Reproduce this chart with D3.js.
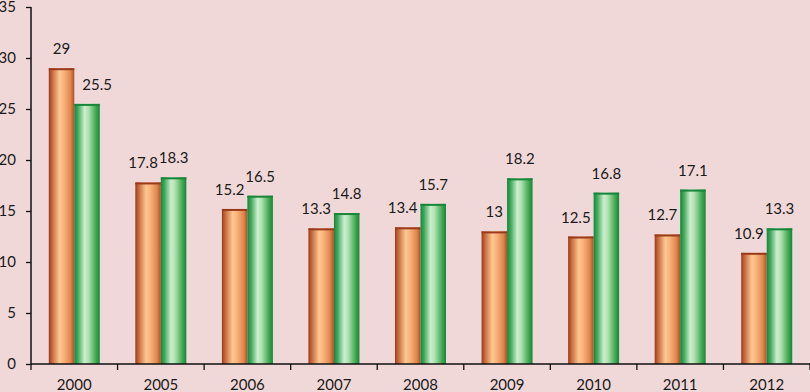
<!DOCTYPE html>
<html><head><meta charset="utf-8">
<script src="https://cdn.jsdelivr.net/npm/d3@7"></script>
<style>html,body{margin:0;padding:0;background:#f1d8d8;}svg{display:block;}</style>
</head><body><svg id="c" width="810" height="392"></svg>
<script>
const categories = ["2000","2005","2006","2007","2008","2009","2010","2011","2012"];
const seriesA = [29, 17.8, 15.2, 13.3, 13.4, 13, 12.5, 12.7, 10.9];
const seriesB = [25.5, 18.3, 16.5, 14.8, 15.7, 18.2, 16.8, 17.1, 13.3];
const yTicks = [0, 5, 10, 15, 20, 25, 30, 35];

const svg = d3.select("#c");
const W = 810, H = 392;
const m = {left: 31, right: 0, top: 7, bottom: 28};
const font = "Lato, 'Open Sans', sans-serif";
const fs = 15;

svg.append("rect").attr("width", W).attr("height", H).attr("fill", "#f1d8d8");

const defs = svg.append("defs");
function grad(id, stops) {
  const g = defs.append("linearGradient").attr("id", id).attr("x1", "0%").attr("x2", "100%").attr("y1", "0%").attr("y2", "0%");
  stops.forEach(s => g.append("stop").attr("offset", s[0]).attr("stop-color", s[1]));
}
grad("gA", [["0%","#9a3a1c"],["12%","#c4653a"],["42%","#fcc891"],["58%","#f9b47c"],["85%","#e0864e"],["100%","#b24f27"]]);
grad("gB", [["0%","#17863a"],["14%","#3da85a"],["40%","#cdeecd"],["55%","#b2e2b2"],["85%","#3fa850"],["100%","#17863a"]]);

const x = d3.scaleBand().domain(categories).range([m.left, W - m.right]).paddingInner(0).paddingOuter(0);
const y = d3.scaleLinear().domain([0, 35]).range([H - m.bottom, m.top]);
const sub = d3.scaleBand().domain(["A","B"]).range([0, 51]);
const bw = sub.bandwidth();

const g = svg.append("g");
categories.forEach((c, i) => {
  const x0 = x(c) + (x.bandwidth() - 51) / 2;
  const a = seriesA[i], b = seriesB[i];
  [["A", a, "url(#gA)", "#9a3a1c", b], ["B", b, "url(#gB)", "#17863a", a]].forEach(([k, v, f, s, other]) => {
    const bx = x0 + sub(k);
    g.append("rect").attr("x", bx).attr("y", y(v)).attr("width", bw).attr("height", y(0) - y(v))
      .attr("fill", f);
    g.append("line").attr("x1", bx).attr("x2", bx + bw).attr("y1", y(v) + 1).attr("y2", y(v) + 1)
      .attr("stroke", s).attr("stroke-width", 2);
    const t = g.append("text").attr("x", bx + bw / 2).attr("y", y(v) - 14)
      .attr("text-anchor", "middle").attr("font-family", font).attr("font-size", fs).attr("fill", "#1a1a1a")
      .text(String(v));
    // avoid overlapping the neighbouring, taller bar
    if (other > v) {
      const w = t.node().getComputedTextLength();
      if (k === "A") {
        const limit = bx + bw - 3;
        const right = bx + bw / 2 + w / 2;
        if (right > limit) t.attr("x", bx + bw / 2 - (right - limit));
      } else {
        const limit = bx + 8;
        const left = bx + bw / 2 - w / 2;
        if (left < limit) t.attr("x", bx + bw / 2 + (limit - left));
      }
    }
  });
});

// Y axis
const ya = svg.append("g").attr("transform", `translate(${m.left},0)`)
  .call(d3.axisLeft(y).tickValues(yTicks).tickSize(5).tickPadding(10).tickFormat(d3.format("d")));
ya.select(".domain").attr("stroke", "#111").attr("stroke-width", 1.5).attr("d", `M0,${m.top}V${H - m.bottom}`);
ya.selectAll(".tick line").attr("stroke", "#111").attr("stroke-width", 1.3);
ya.selectAll("text").attr("font-family", font).attr("font-size", fs).attr("fill", "#1a1a1a");

// X axis
const xa = svg.append("g").attr("transform", `translate(0,${H - m.bottom})`)
  .call(d3.axisBottom(x).tickSize(0).tickPadding(15));
xa.select(".domain").attr("stroke", "#111").attr("stroke-width", 1.5).attr("d", `M${m.left},0H${W}`);
xa.selectAll("text").attr("font-family", font).attr("font-size", fs).attr("fill", "#1a1a1a");
const bounds = categories.map(c => x(c)).concat([x(categories[categories.length - 1]) + x.bandwidth()]);
xa.selectAll(".bt").data(bounds).enter().append("line").attr("class", "bt")
  .attr("x1", d => d).attr("x2", d => d).attr("y1", 0).attr("y2", 6)
  .attr("stroke", "#111").attr("stroke-width", 1.3);
</script></body></html>
